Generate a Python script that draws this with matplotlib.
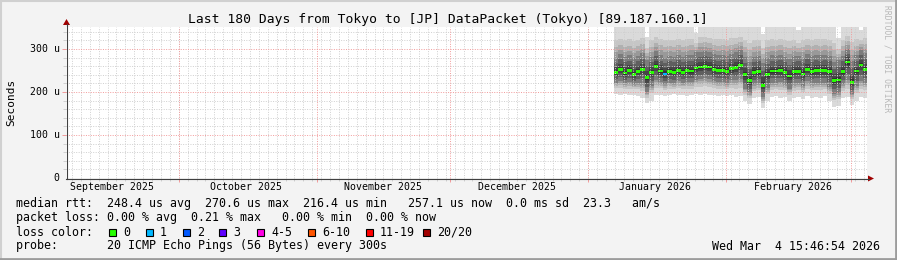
import numpy as np
import pandas as pd
import matplotlib
matplotlib.use('Agg')
import matplotlib.pyplot as plt
import matplotlib.dates as mdates
from matplotlib.patches import Polygon, Rectangle

plt.rcParams['font.family'] = 'DejaVu Sans Mono'

title = 'Last 180 Days from Tokyo to [JP] DataPacket (Tokyo) [89.187.160.1]'
t_start = pd.Timestamp('2025-09-05 15:46:54')
t_end = pd.Timestamp('2026-03-04 15:46:54')
data_start = pd.Timestamp('2026-01-06 18:00')

# one value per day (microseconds)
median = [245, 253, 244, 250, 241, 248, 253, 233, 246, 260, 249, 242, 248, 245, 250,
          246, 250, 249, 256, 258, 260, 258, 252, 250, 250, 247, 254, 257, 262, 240,
          226, 245, 247, 216, 240, 249, 249, 250, 245, 237, 247, 248, 242, 253, 247,
          250, 250, 250, 247, 226, 228, 247, 270, 223, 249, 263, 253]
lo = [195, 193, 195, 192, 194, 190, 186, 174, 180, 192, 194, 190, 193, 195, 192,
      194, 191, 193, 195, 193, 196, 192, 194, 190, 192, 190, 193, 188, 190, 178,
      172, 185, 188, 162, 180, 188, 190, 186, 188, 178, 186, 188, 184, 190, 187,
      189, 186, 190, 178, 165, 168, 186, 188, 170, 180, 188, 186]
q_lo = [222, 226, 220, 224, 218, 222, 220, 200, 214, 228, 224, 218, 222, 220, 225,
        221, 224, 223, 228, 230, 232, 230, 226, 224, 224, 222, 227, 228, 230, 208,
        198, 218, 220, 188, 210, 222, 222, 223, 219, 208, 220, 221, 215, 225, 220,
        222, 222, 222, 212, 196, 198, 218, 228, 196, 214, 226, 222]
q_hi = [280, 288, 282, 285, 278, 284, 290, 275, 282, 295, 286, 280, 284, 282, 286,
        282, 285, 286, 292, 294, 296, 293, 288, 285, 286, 283, 289, 292, 298, 282,
        270, 282, 284, 268, 280, 285, 284, 286, 282, 276, 283, 284, 280, 288, 283,
        286, 285, 286, 284, 270, 274, 284, 300, 272, 285, 298, 290]
hi = [360, 360, 360, 360, 360, 360, 360, 328, 360, 360, 360, 360, 360, 360, 360,
      360, 360, 360, 337, 360, 360, 360, 360, 360, 360, 360, 360, 360, 360, 360,
      360, 360, 360, 335, 360, 360, 360, 360, 360, 360, 360, 345, 360, 360, 360,
      360, 360, 360, 360, 360, 325, 360, 360, 360, 360, 345, 360]
loss_events = {11: 1}

month_labels = ['September 2025', 'October 2025', 'November 2025',
                'December 2025', 'January 2026', 'February 2026']
month_mid = ['2025-09-16', '2025-10-16', '2025-11-16', '2025-12-16', '2026-01-16', '2026-02-16']
month_start = ['2025-10-01', '2025-11-01', '2025-12-01', '2026-01-01', '2026-02-01', '2026-03-01']
y_ticks = [100, 200, 300]
y_labels = ['100 u', '200 u', '300 u']

loss_colors = ['#26ff00', '#00b8ff', '#0059ff', '#5e00ff', '#ff00e5', '#ff5500', '#ff0000', '#a10000']
loss_names = ['0', '1', '2', '3', '4-5', '6-10', '11-19', '20/20']

W, H = 897, 260
fig = plt.figure(figsize=(W / 100, H / 100), dpi=100, facecolor='#f3f3f3')
ax = fig.add_axes([66 / W, (H - 178) / H, 801 / W, 151 / H])
ax.set_facecolor('white')
ax.set_xlim(mdates.date2num(t_start), mdates.date2num(t_end))
ax.set_ylim(0, 151 / 0.43)

# smoke
n = len(median)
xe = mdates.date2num(data_start) + np.arange(n + 1)
def ext(a):
    a = np.asarray(a, float)
    return np.append(a, a[-1])
med_e, lo_e, qlo_e, qhi_e, hi_e = ext(median), ext(lo), ext(q_lo), ext(q_hi), ext(hi)
ax.fill_between(xe, lo_e, hi_e, step='post', color='#dadada', lw=0, zorder=1)
for f, c in zip([0.5, 0.7, 0.85], ['#c6c6c6', '#b0b0b0', '#999999']):
    ax.fill_between(xe, lo_e + (qlo_e - lo_e) * f, hi_e + (qhi_e - hi_e) * f,
                    step='post', color=c, lw=0, zorder=1)
ax.fill_between(xe, qlo_e, qhi_e, step='post', color='#7c7c7c', lw=0, zorder=1)
for f, c in zip([0.35, 0.65, 0.85], ['#5f5f5f', '#464646', '#333333']):
    ax.fill_between(xe, qlo_e + (med_e - qlo_e) * f, qhi_e + (med_e - qhi_e) * f,
                    step='post', color=c, lw=0, zorder=1)

# median marks
cols = [loss_colors[loss_events.get(i, 0)] for i in range(n)]
ax.bar(xe[:-1], 6.5, bottom=np.asarray(median) - 3.25, width=1.0, align='edge',
       color=cols, lw=0, zorder=3)

# grid
dot = (0, (1, 1.5))
minor_days = pd.date_range('2025-09-07', t_end, freq='2D')
for d in minor_days:
    ax.axvline(mdates.date2num(d), color='#cfcfcf', lw=0.7, ls=dot, zorder=4)
for v in range(20, 352, 20):
    if v % 100:
        ax.axhline(v, color='#cfcfcf', lw=0.7, ls=dot, zorder=4)
for d in month_start:
    ax.axvline(mdates.date2num(pd.Timestamp(d)), color='#f29a9a', lw=0.7, ls=dot, zorder=4)
for v in y_ticks:
    ax.axhline(v, color='#f29a9a', lw=0.7, ls=dot, zorder=4)

for s in ['top', 'right', 'left', 'bottom']:
    ax.spines[s].set_visible(False)
ax.set_xticks([mdates.date2num(pd.Timestamp(d)) for d in month_start])
ax.set_xticklabels([])
ax.set_xticks([mdates.date2num(d) for d in minor_days], minor=True)
ax.set_yticks(y_ticks)
ax.set_yticklabels([])
ax.set_yticks(range(20, 352, 20), minor=True)
ax.tick_params(which='major', length=3, width=0.7, color='#f29a9a')
ax.tick_params(which='minor', length=2, width=0.7, color='#cfcfcf')

# overlay in pixel coordinates
ov = fig.add_axes([0, 0, 1, 1], zorder=10)
ov.set_xlim(0, W)
ov.set_ylim(H, 0)
ov.axis('off')
ov.patch.set_alpha(0)

ov.plot([66.5, 66.5], [178.5, 24], color='#404040', lw=0.8)
ov.plot([66, 869], [178.5, 178.5], color='#404040', lw=0.8)
ov.add_patch(Polygon([[63, 25], [70, 25], [66.5, 19]], closed=True, color='#a00000', lw=0))
ov.add_patch(Polygon([[868, 175.5], [868, 181.5], [874, 178.5]], closed=True, color='#a00000', lw=0))

ov.text(447.5, 19, title, ha='center', va='center', fontsize=9.4, color='black')
x0 = mdates.date2num(t_start)
for lab, d in zip(month_labels, month_mid):
    px = 66 + (mdates.date2num(pd.Timestamp(d)) - x0) * 801 / 180.0
    ov.text(px, 187, lab, ha='center', va='center', fontsize=7.1)
ov.text(59.5, 178, '0', ha='right', va='center', fontsize=7.1)
for v, lab in zip(y_ticks, y_labels):
    ov.text(59.5, 178 - v * 0.43, lab, ha='right', va='center', fontsize=7.1)
ov.text(11, 102, 'Seconds', rotation=90, ha='center', va='center', fontsize=8)
ov.text(887, 5, 'RRDTOOL / TOBI OETIKER', rotation=270, ha='center', va='top',
        fontsize=5.8, color='#b8b8b8')

lines = [
    'median rtt:  248.4 us avg  270.6 us max  216.4 us min   257.1 us now  0.0 ms sd  23.3   am/s',
    'packet loss: 0.00 % avg  0.21 % max   0.00 % min  0.00 % now',
    'loss color:',
    'probe:       20 ICMP Echo Pings (56 Bytes) every 300s',
]
for i, t in enumerate(lines):
    ov.text(16, 204 + i * 14, t, ha='left', va='center', fontsize=8.37)
label_x = [123, 160, 197, 233, 271, 322, 380, 437]
for lx, c, nm in zip(label_x, loss_colors, loss_names):
    ov.add_patch(Rectangle((lx - 14, 228.5), 7, 7, facecolor=c, edgecolor='black', lw=0.8))
    ov.text(lx, 232, nm, ha='left', va='center', fontsize=8.37)
ov.text(880, 246, 'Wed Mar  4 15:46:54 2026', ha='right', va='center', fontsize=8.37)

# frame
ov.plot([0.5, W - 0.5], [0.5, 0.5], color='#d0d0d0', lw=1.5)
ov.plot([0.5, 0.5], [0, H], color='#d0d0d0', lw=1.5)
ov.plot([W - 1, W - 1], [0, H], color='#9c9c9c', lw=2)
ov.plot([0, W], [H - 1, H - 1], color='#9c9c9c', lw=2)

fig.savefig('out.png', dpi=100, facecolor=fig.get_facecolor())
